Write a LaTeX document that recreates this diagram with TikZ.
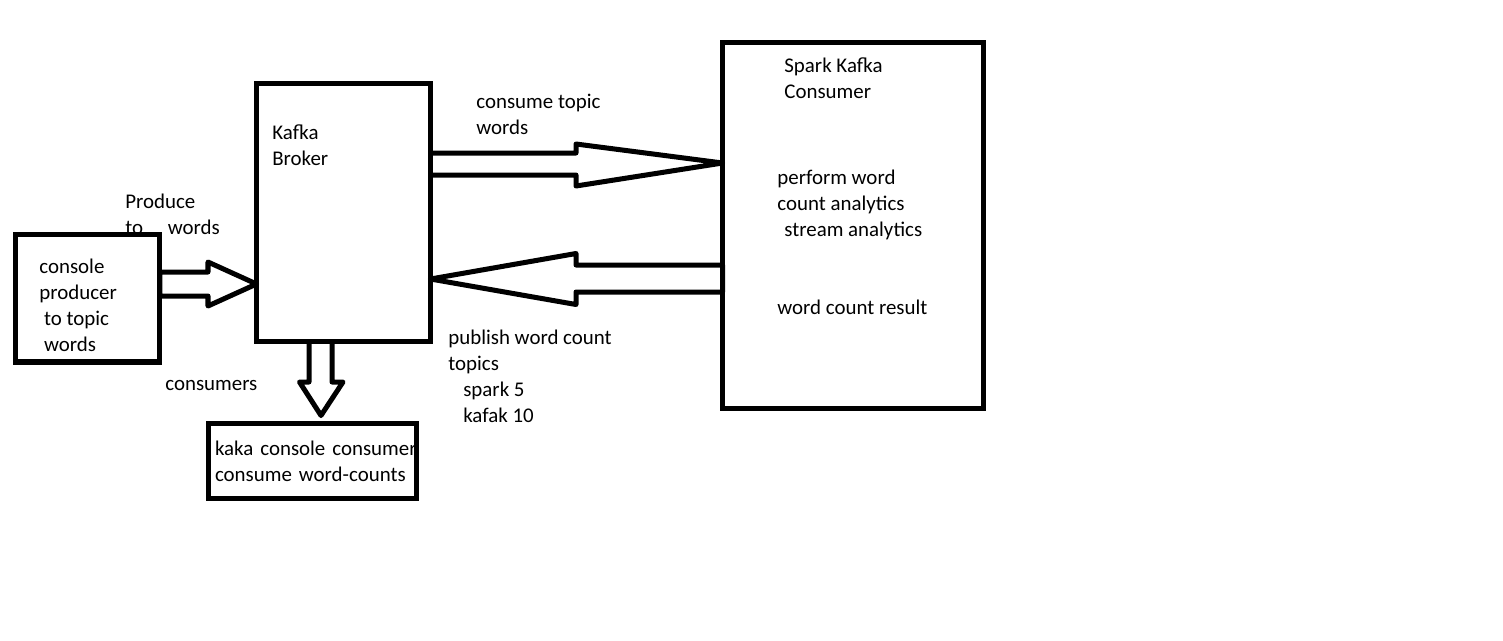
\documentclass[tikz,border=0pt]{standalone}
\usepackage{fontspec}
\setmainfont{Carlito}
\usetikzlibrary{calc}

\tikzset{
  box/.style={draw, line width=2.85pt, inner sep=0pt, outer sep=0pt},
  txt/.style={anchor=base west, align=left, inner sep=0pt, font=\fontsize{11.9}{14.8}\selectfont},
  fatarrow/.style={draw, line width=2.85pt, line join=round},
}

\begin{document}
\begin{tikzpicture}[x=0.02cm, y=-0.02cm]
  \useasboundingbox (0,0) rectangle (1503,640);
  % texts (placed at the baseline of their last line)
  \node[txt] (producetxt) at (125,234) {Produce\\to\hspace{14pt}words};
  \node[txt] (producertxt) at (39,351) {console\\producer\\\ to topic\\\ words};
  \node[txt] (brokertxt) at (272,165) {Kafka\\Broker};
  \node[txt] (consumetxt) at (476,134) {consume topic\\words};
  \node[txt] (publishtxt) at (448,422) {publish word count\\topics\\\hspace{8.5pt}spark 5\\\hspace{8.5pt}kafak 10};
  \node[txt] (sparktxt) at (784,98) {Spark Kafka\\Consumer};
  \node[txt] (analyticstxt) at (777,236.5) {perform word\\count analytics\\\hspace{4pt}stream analytics};
  \node[txt] (resulttxt) at (777,314) {word count result};
  \node[txt] (consumerstxt) at (165,390) {consumers};
  % boxes
  \node[box, minimum width=2.89cm, minimum height=2.56cm] (producer) at (87.75,298) {};
  \node[box, minimum width=3.48cm, minimum height=5.16cm] (broker) at (343.5,212.5) {};
  \node[box, minimum width=5.22cm, minimum height=7.33cm] (spark) at (853,225.75) {};
  \node[box, align=left, text width=3.9cm, font=\fontsize{11.9}{14.8}\selectfont, minimum width=4.16cm, minimum height=1.5cm] (kaka) at (312.5,461) {\mbox{kaka console consumer}\\\mbox{consume word-counts}};
  % arrows
  \draw[fatarrow] (producer.east |- 0,272) -- (208,272) -- (208,262) -- (broker.west |- 0,284)
    -- (208,306) -- (208,296) -- (producer.east |- 0,296) -- cycle;
  \draw[fatarrow] (broker.east |- 0,153) -- (576,153) -- (576,144) -- (spark.west |- 0,163)
    -- (576,186) -- (576,175) -- (broker.east |- 0,175);
  \draw[fatarrow] (spark.west |- 0,265) -- (576,265) -- (576,253.5) -- (broker.east |- 0,279)
    -- (576,304.5) -- (576,292) -- (spark.west |- 0,292) -- cycle;
  \draw[fatarrow] (309,0 |- broker.south) -- (309,382) -- (299.5,382) -- ($(321,0 |- kaka.north)+(0,-8)$)
    -- (343,382) -- (332,382) -- (332,0 |- broker.south);
\end{tikzpicture}
\end{document}
